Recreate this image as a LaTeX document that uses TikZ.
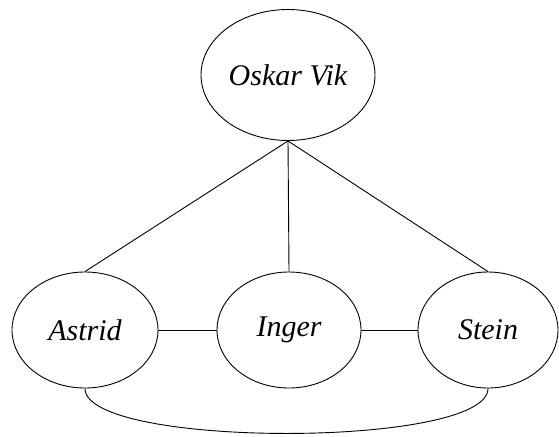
\documentclass[tikz,border=0pt]{standalone}
\usepackage{fontspec}
\setmainfont{Liberation Serif}
\usetikzlibrary{shapes.geometric}
\begin{document}
\begin{tikzpicture}[x=1pt,y=-1pt,
  person/.style={draw,ellipse,line width=0.9pt,inner sep=0pt,font=\itshape\fontsize{30}{33}\selectfont},
  link/.style={line width=0.9pt}]
  \useasboundingbox (0,0) rectangle (559,436);
  % people
  \node[person,minimum width=174pt,minimum height=131pt] (oskar) at (288,75) {Oskar Vik};
  \node[person,minimum width=146pt,minimum height=116pt] (astrid) at (85,330) {Astrid};
  \node[person,minimum width=144pt,minimum height=116pt] (inger) at (289,330) {Inger};
  \node[person,minimum width=140pt,minimum height=116pt] (stein) at (488,330) {Stein};
  % connections
  \draw[link] (oskar.south) -- (astrid.north);
  \draw[link] (oskar.south) -- (inger.north);
  \draw[link] (oskar.south) -- (stein.north);
  \draw[link] (astrid.east) -- (inger.west);
  \draw[link] (inger.east) -- (stein.west);
  \draw[link] (astrid.south) .. controls +(0,60) and +(0,60) .. (stein.south);
\end{tikzpicture}
\end{document}
